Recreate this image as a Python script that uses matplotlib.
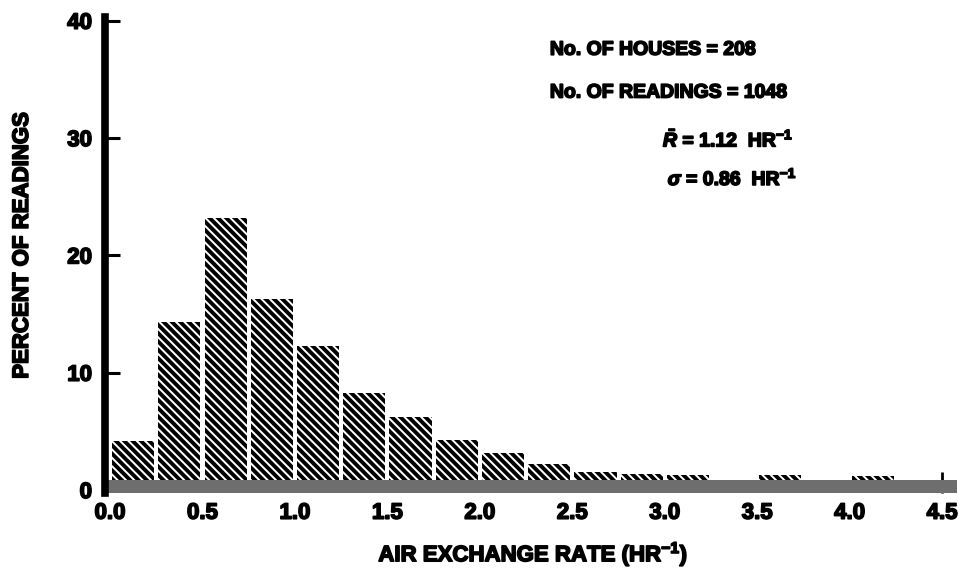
import matplotlib
matplotlib.use('Agg')
import matplotlib.pyplot as plt
import matplotlib.patheffects as pe
import numpy as np

# histogram of air exchange rates, bins of 0.25 hr^-1
bin_edges = np.arange(0.0, 4.5, 0.25)
percent = [4.2, 14.3, 23.2, 16.3, 12.3, 8.3, 6.2, 4.3, 3.2,
           2.2, 1.5, 1.4, 1.3, 0.0, 1.3, 0.0, 1.2, 0.0]
x_ticks = [0.0, 0.5, 1.0, 1.5, 2.0, 2.5, 3.0, 3.5, 4.0, 4.5]
x_tick_labels = ['0.0', '0.5', '1.0', '1.5', '2.0', '2.5', '3.0', '3.5', '4.0', '4.5']
y_ticks = [0, 10, 20, 30, 40]
stats_lines = ['No. OF HOUSES = 208',
               'No. OF READINGS = 1048',
               r'$\bar{R}$ = 1.12  HR$^{-1}$',
               r'$\sigma$ = 0.86  HR$^{-1}$']

plt.rcParams['font.family'] = ['Liberation Sans', 'DejaVu Sans']
plt.rcParams['font.weight'] = 'bold'
plt.rcParams['axes.labelweight'] = 'bold'
plt.rcParams['mathtext.fontset'] = 'custom'
plt.rcParams['mathtext.rm'] = 'Liberation Sans:bold'
plt.rcParams['mathtext.it'] = 'Liberation Sans:italic:bold'
plt.rcParams['hatch.linewidth'] = 2.8
plt.rcParams['hatch.color'] = 'black'

# the scanned lettering is very heavy, thicken the glyphs a bit
heavy = [pe.withStroke(linewidth=1.2, foreground='black')]

fig = plt.figure(figsize=(9.58, 5.71), dpi=100)
ax = fig.add_axes([0.1091, 0.1366, 0.8898, 0.8476])

width = 0.25
gap = 0.022
ax.bar(bin_edges + gap / 2, percent, width=width - gap, align='edge',
       color='white', edgecolor='black', linewidth=0, hatch='\\\\\\\\',
       zorder=2)

# thick grey base line
ax.axhspan(-0.25, 0.9, color='#6e6e6e', zorder=3, lw=0)

ax.set_xlim(-0.03, 4.58)
ax.set_ylim(-0.25, 41)

for side in ['top', 'right', 'bottom']:
    ax.spines[side].set_visible(False)
ax.spines['left'].set_linewidth(5.5)
ax.spines['left'].set_bounds(-0.25, 40.3)
ax.spines['left'].set_zorder(4)
ax.set_axisbelow(False)

ax.set_yticks(y_ticks)
ax.set_yticklabels(['%d' % v for v in y_ticks])
ax.tick_params(axis='y', direction='in', length=11, width=2.2, pad=9,
               labelsize=16)
ax.set_xticks(x_ticks)
ax.set_xticklabels(x_tick_labels)
ax.tick_params(axis='x', length=0, pad=7, labelsize=16)
# only the last position gets a visible tick mark
ax.xaxis.remove_overlapping_locs = False
ax.set_xticks([4.5], minor=True)
ax.tick_params(axis='x', which='minor', direction='in', length=15, width=2)

for lbl in ax.get_xticklabels() + ax.get_yticklabels():
    lbl.set_path_effects(heavy)

ax.set_ylabel('PERCENT OF READINGS', fontsize=16, path_effects=heavy)
ax.set_xlabel(r'AIR EXCHANGE RATE (HR$^{-1}$)', fontsize=16,
              path_effects=heavy)
ax.yaxis.set_label_coords(-0.084, 0.512)
ax.xaxis.set_label_coords(0.503, -0.095)

stats_pos = [(0.574, 0.912), (0.574, 0.837), (0.692, 0.755), (0.697, 0.688)]
for (tx, ty), s in zip(stats_pos, stats_lines):
    fig.text(tx, ty, s, fontsize=14, va='center', path_effects=heavy)

fig.savefig('out.png', dpi=100)
